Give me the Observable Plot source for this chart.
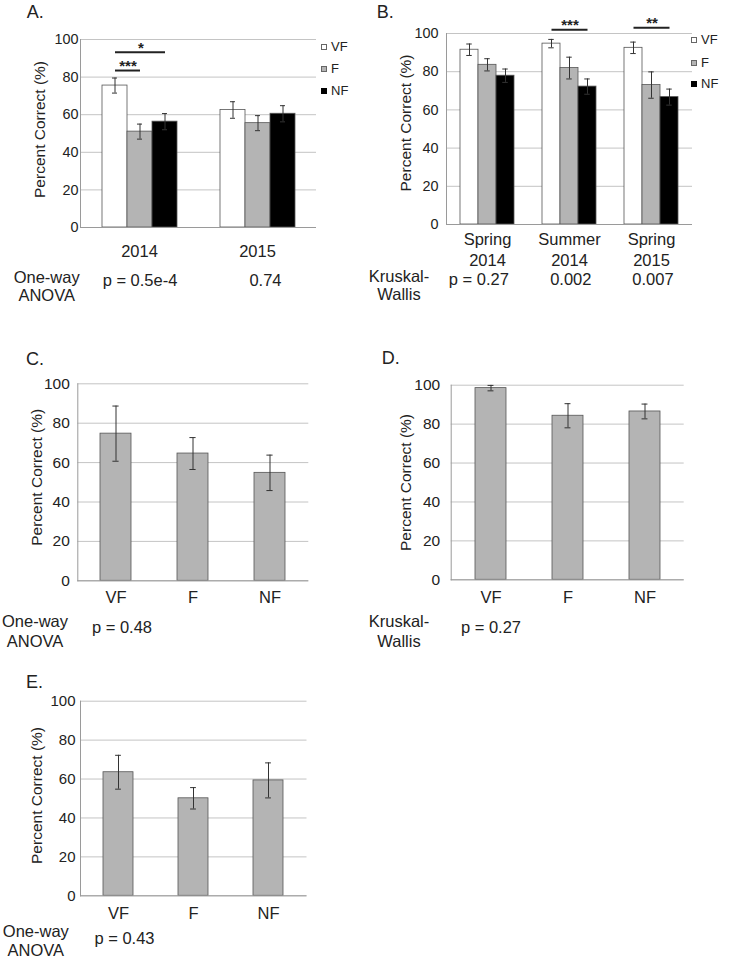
<!DOCTYPE html>
<html><head><meta charset="utf-8">
<script src="https://cdn.jsdelivr.net/npm/d3@7"></script>
<script src="https://cdn.jsdelivr.net/npm/@observablehq/plot@0.6"></script>
<style>
body{margin:0;background:#fff;}
#fig{position:relative;width:729px;height:959px;font-family:"Liberation Sans",Arial,Helvetica,sans-serif;color:#222;overflow:hidden;}
.abs{position:absolute;}
.letter{font-size:18px;line-height:18px;white-space:nowrap;}
.stat{font-size:16.5px;text-align:center;width:90px;white-space:nowrap;}
.leg{font-size:13px;line-height:14px;display:flex;align-items:center;white-space:nowrap;}
.sw{width:4px;height:4px;border:1px solid #666;margin-right:4px;}
</style></head><body><div id="fig"></div>
<script>
// ---------- data ----------
const series = ["VF", "F", "NF"];
const yTicks = [0, 20, 40, 60, 80, 100];
const yLabel = "Percent Correct (%)";

// Panel A
const groupsA = ["2014", "2015"];
const groupLabelsA = ["2014", "2015"];
const meanA_VF = [75.5, 62.5];
const errA_VF = [4.0, 4.4];
const meanA_F = [51.0, 55.5];
const errA_F = [4.0, 4.0];
const meanA_NF = [56.3, 60.5];
const errA_NF = [4.3, 4.3];
const pA = ["p = 0.5e-4", "0.74"];
const sigA_group = ["2014", "2014"];
const sigA_from = ["VF", "VF"];
const sigA_to = ["NF", "F"];
const sigA_y = [93.2, 83.5];
const sigA_label = ["*", "***"];

// Panel B
const groupsB = ["Spring 2014", "Summer 2014", "Spring 2015"];
const groupLabelsB = ["Spring\n2014", "Summer\n2014", "Spring\n2015"];
const meanB_VF = [91.5, 94.7, 92.5];
const errB_VF = [3.0, 2.2, 3.0];
const meanB_F = [83.6, 81.9, 73.0];
const errB_F = [3.2, 5.7, 6.9];
const meanB_NF = [77.9, 72.2, 66.7];
const errB_NF = [3.5, 4.0, 4.2];
const pB = ["p = 0.27", "0.002", "0.007"];
const sigB_group = ["Summer 2014", "Spring 2015"];
const sigB_from = ["VF", "VF"];
const sigB_to = ["NF", "NF"];
const sigB_y = [102.0, 103.0];
const sigB_label = ["***", "**"];

// Panel C
const meanC = [74.7, 64.6, 54.8];
const errC = [14.0, 8.1, 9.0];
const pC = "p = 0.48";
// Panel D
const meanD = [98.5, 84.3, 86.5];
const errD = [1.4, 6.2, 3.8];
const pD = "p = 0.27";
// Panel E
const meanE = [63.5, 50.1, 59.3];
const errE = [8.7, 5.5, 9.0];
const pE = "p = 0.43";

// ---------- styles ----------
const FONT = '"Liberation Sans", Arial, Helvetica, sans-serif';
const GRID = "#c4c4c4";
const AXIS = "#9a9a9a";
const BAR_STROKE = "#555";
const ERR = "#333";
const seriesColors = ["#ffffff", "#b4b4b4", "#000000"];
const fig = document.getElementById("fig");

function place(el, left, top) {
  el.style.position = "absolute";
  el.style.left = left + "px";
  el.style.top = top + "px";
  fig.appendChild(el);
}
function html(cls, text, left, top) {
  const d = document.createElement("div");
  d.className = cls;
  d.innerHTML = text;
  place(d, left, top);
  return d;
}
const MID = {textAnchor: "middle", lineAnchor: "middle"};

function groupedPanel(cfg) {
  const rows = [];
  cfg.groups.forEach((g, i) => {
    cfg.means.forEach((m, s) => rows.push({group: g, series: series[s], mean: m[i], err: cfg.errs[s][i]}));
  });
  const gRows = cfg.groups.map((g, i) => ({group: g, label: cfg.labels[i], p: cfg.p[i]}));
  const sig = cfg.sigGroup.map((g, i) => ({group: g, from: cfg.sigFrom[i], to: cfg.sigTo[i], y: cfg.sigY[i], label: cfg.sigLabel[i]}));
  const facetW = (cfg.width - cfg.ml - cfg.mr) / cfg.groups.length;
  const step = facetW / (series.length + 2 * cfg.po);
  const capInset = (step - 6) / 2;
  const marks = [
    Plot.ruleY(yTicks, {stroke: GRID}),
    Plot.barY(rows, {fx: "group", x: "series", y: "mean", fill: "series", stroke: BAR_STROKE, strokeWidth: 0.8}),
    Plot.ruleX(rows, {fx: "group", x: "series", y1: d => d.mean - d.err, y2: d => d.mean + d.err, stroke: ERR}),
    Plot.tickY(rows, {fx: "group", x: "series", y: d => d.mean + d.err, stroke: ERR, inset: capInset}),
    Plot.tickY(rows, {fx: "group", x: "series", y: d => d.mean - d.err, stroke: ERR, inset: capInset}),
    Plot.ruleY([0], {stroke: AXIS}),
    Plot.frame({anchor: "left", facetAnchor: "left", stroke: AXIS}),
    Plot.axisY({ticks: yTicks, tickSize: 0, tickPadding: cfg.tp, fontSize: cfg.yfs, label: null}),
    Plot.text([yLabel], {...MID, text: d => d, frameAnchor: "left", rotate: -90, dx: cfg.ylx, dy: cfg.yly, fontSize: 15.5, facetAnchor: "left"}),
    Plot.text(gRows, {...MID, fx: "group", text: "label", frameAnchor: "bottom", dy: cfg.xdy, fontSize: 16.5, lineHeight: 1.22})
  ];
  gRows.forEach((r, i) => {
    marks.push(Plot.text([r], {...MID, fx: "group", text: "p", frameAnchor: "bottom", dy: cfg.pdy, dx: cfg.pdx[i], fontSize: 16.5}));
  });
  sig.forEach(s => {
    const span = series.indexOf(s.to) - series.indexOf(s.from);
    marks.push(Plot.link([s], {fx: "group", x1: "from", x2: "to", y1: "y", y2: "y", stroke: "#222", strokeWidth: 2}));
    marks.push(Plot.text([s], {...MID, fx: "group", x: "from", y: "y", text: "label", dx: span * step / 2, dy: -4.5, fontSize: 15, fontWeight: "bold"}));
  });
  const svg = Plot.plot({
    width: cfg.width, height: cfg.height,
    marginLeft: cfg.ml, marginRight: cfg.mr, marginTop: cfg.mt, marginBottom: cfg.mb,
    style: {fontFamily: FONT, color: "#222", background: "transparent", overflow: "visible"},
    fx: {domain: cfg.groups, padding: 0, axis: null, label: null},
    x: {domain: series, paddingInner: 0, paddingOuter: cfg.po, axis: null},
    y: {domain: [0, 100]},
    color: {domain: series, range: seriesColors},
    marks
  });
  place(svg, cfg.left, cfg.top);
}

function singlePanel(cfg) {
  const rows = series.map((s, i) => ({series: s, mean: cfg.mean[i], err: cfg.err[i]}));
  const step = (cfg.width - cfg.ml - cfg.mr) / (series.length - 0.6 + 0.6);
  const capInset = (step * 0.4 - 6) / 2;
  const svg = Plot.plot({
    width: cfg.width, height: cfg.height,
    marginLeft: cfg.ml, marginRight: cfg.mr, marginTop: cfg.mt, marginBottom: cfg.mb,
    style: {fontFamily: FONT, color: "#222", background: "transparent", overflow: "visible"},
    x: {domain: series, paddingInner: 0.6, paddingOuter: 0.3, axis: null},
    y: {domain: [0, 100]},
    marks: [
      Plot.ruleY(yTicks, {stroke: GRID}),
      Plot.barY(rows, {x: "series", y: "mean", fill: "#b4b4b4", stroke: BAR_STROKE, strokeWidth: 0.8}),
      Plot.ruleX(rows, {x: "series", y1: d => d.mean - d.err, y2: d => d.mean + d.err, stroke: ERR}),
      Plot.tickY(rows, {x: "series", y: d => d.mean + d.err, stroke: ERR, inset: capInset}),
      Plot.tickY(rows, {x: "series", y: d => d.mean - d.err, stroke: ERR, inset: capInset}),
      Plot.ruleY([0], {stroke: AXIS}),
      Plot.frame({anchor: "left", stroke: AXIS}),
      Plot.axisY({ticks: yTicks, tickSize: 0, tickPadding: cfg.tp, fontSize: cfg.yfs, label: null}),
      Plot.text([yLabel], {...MID, text: d => d, frameAnchor: "left", rotate: -90, dx: cfg.ylx, dy: cfg.yly, fontSize: 15.5}),
      Plot.text(rows, {...MID, x: "series", text: "series", frameAnchor: "bottom", dy: cfg.xdy, fontSize: 16.5}),
      Plot.text([{series: series[0], p: cfg.p}], {...MID, x: "series", text: "p", frameAnchor: "bottom", dy: cfg.pdy, dx: cfg.pdx, fontSize: 16.5})
    ]
  });
  place(svg, cfg.left, cfg.top);
}

// Panel A
groupedPanel({
  left: 0, top: 0, width: 360, height: 310, ml: 79, mr: 44, mt: 39, mb: 83, po: 0.779,
  groups: groupsA, labels: groupLabelsA,
  means: [meanA_VF, meanA_F, meanA_NF], errs: [errA_VF, errA_F, errA_NF],
  p: pA, pdx: [0.5, 8], pdy: 53, xdy: 23, tp: 2, yfs: 14.4, ylx: -40, yly: -4,
  sigGroup: sigA_group, sigFrom: sigA_from, sigTo: sigA_to, sigY: sigA_y, sigLabel: sigA_label
});
// Panel B
groupedPanel({
  left: 360, top: 0, width: 369, height: 310, ml: 85, mr: 36, mt: 33, mb: 86, po: 0.734,
  groups: groupsB, labels: groupLabelsB,
  means: [meanB_VF, meanB_F, meanB_NF], errs: [errB_VF, errB_F, errB_NF],
  p: pB, pdx: [-8.6, 1.3, 1.5], pdy: 55, xdy: 24.5, tp: 8, yfs: 14.4, ylx: -40.7, yly: -6,
  sigGroup: sigB_group, sigFrom: sigB_from, sigTo: sigB_to, sigY: sigB_y, sigLabel: sigB_label
});
// Panel C
singlePanel({left: 0, top: 340, width: 360, height: 310, ml: 77.3, mr: 51.7, mt: 43.3, mb: 69.7,
  mean: meanC, err: errC, p: pC, pdx: 6, pdy: 46.5, xdy: 16.5, tp: 8, yfs: 15.5, ylx: -40.6, yly: -5});
// Panel D
singlePanel({left: 360, top: 340, width: 369, height: 310, ml: 90.7, mr: 45.3, mt: 44.7, mb: 70.7,
  mean: meanD, err: errD, p: pD, pdx: 0, pdy: 47.5, xdy: 17.5, tp: 11, yfs: 15.5, ylx: -45, yly: 0});
// Panel E
singlePanel({left: 0, top: 660, width: 360, height: 299, ml: 80, mr: 53.5, mt: 40.7, mb: 63.7,
  mean: meanE, err: errE, p: pE, pdx: 6, pdy: 42.5, xdy: 17.5, tp: 5, yfs: 15, ylx: -43.3, yly: -3});

// panel letters
const letters = [["A.", 26.7, 11.7], ["B.", 376.7, 12], ["C.", 26, 359], ["D.", 381.7, 358.3], ["E.", 26, 682]];
letters.forEach(([t, x, cy]) => html("letter", t, x, cy - 0.49 * 18));

// test names
const stats = [["One-way<br>ANOVA", 46.7, 276.7, 18.3], ["Kruskal-<br>Wallis", 399, 276, 18.3],
  ["One-way<br>ANOVA", 35, 620.7, 20], ["Kruskal-<br>Wallis", 399, 620.7, 20], ["One-way<br>ANOVA", 35.8, 931.7, 19]];
stats.forEach(([t, cx, cy, lh]) => {
  const d = html("stat", t, cx - 45, cy - lh / 2);
  d.style.lineHeight = lh + "px";
});

// legends
function legend(x, ys) {
  series.forEach((s, i) => {
    const d = document.createElement("div");
    d.className = "leg";
    const sw = document.createElement("span");
    sw.className = "sw";
    sw.style.background = seriesColors[i];
    if (i === 2) sw.style.borderColor = "#000";
    d.appendChild(sw);
    d.appendChild(document.createTextNode(s));
    place(d, x, ys[i] - 7);
  });
}
legend(321, [46.7, 68.7, 91]);
legend(691, [40, 62.7, 84.3]);
</script></body></html>
